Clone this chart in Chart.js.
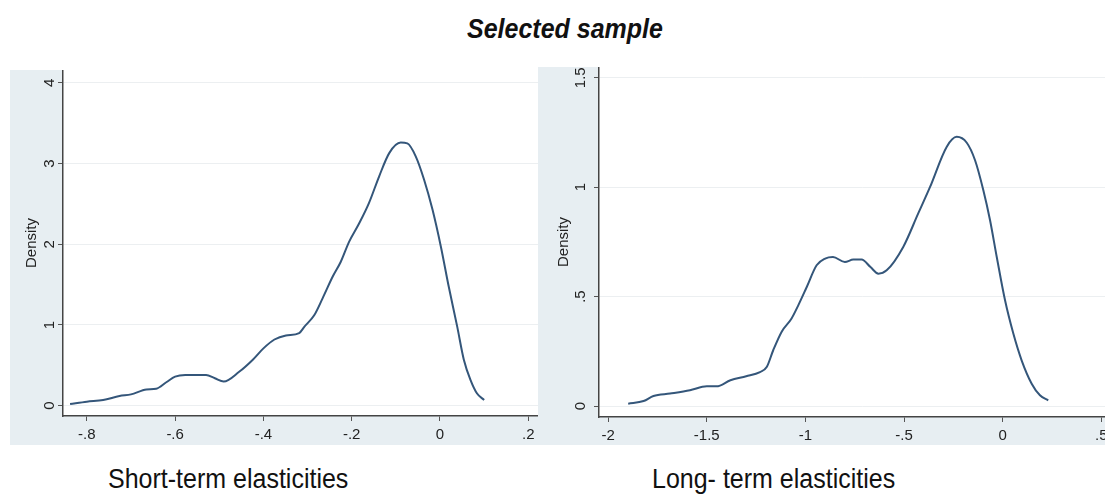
<!DOCTYPE html>
<html>
<head>
<meta charset="utf-8">
<script src="https://cdn.jsdelivr.net/npm/chart.js@4.4.0/dist/chart.umd.min.js"></script>
<style>
  body { margin: 0; width: 1105px; height: 496px; overflow: hidden; background: #fff; position: relative;
         font-family: "Liberation Sans", Arial, sans-serif; }
  .panel { position: absolute; background: #e7eef2; }
  .txt { position: absolute; white-space: nowrap; line-height: 1; color: #111; transform: scaleY(1.1); transform-origin: 0 0; }
</style>
</head>
<body>
<div class="txt" style="left:0; width:1130px; text-align:center; top:15px; font-size:25px; font-weight:bold; font-style:italic;">Selected sample</div>

<div class="panel" style="left:10px; top:70px; width:528px; height:375px;">
  <canvas id="cShort" width="528" height="375"></canvas>
</div>
<div class="panel" style="left:538px; top:67px; width:587px; height:378px;">
  <canvas id="cLong" width="587" height="378"></canvas>
</div>

<div class="txt" style="left:108px; top:465px; font-size:25px;">Short-term elasticities</div>
<div class="txt" style="left:652px; top:465px; font-size:25px;">Long- term elasticities</div>

<script>
// short-term elasticities, kernel density
const shortX = [-0.838, -0.80, -0.763, -0.726, -0.70, -0.665, -0.643, -0.62, -0.60, -0.577, -0.53, -0.51, -0.49,
  -0.455, -0.424, -0.40, -0.375, -0.349, -0.319, -0.307, -0.285, -0.266, -0.243, -0.225, -0.206, -0.183, -0.161,
  -0.138, -0.115, -0.089, -0.074, -0.055, -0.036, -0.017, 0.002, 0.02, 0.039, 0.054, 0.069, 0.084, 0.10];
const shortDensity = [0.02, 0.05, 0.07, 0.12, 0.14, 0.20, 0.21, 0.29, 0.36, 0.38, 0.38, 0.34, 0.30,
  0.42, 0.57, 0.71, 0.82, 0.87, 0.90, 0.98, 1.12, 1.33, 1.60, 1.78, 2.03, 2.26, 2.51,
  2.84, 3.13, 3.26, 3.25, 3.09, 2.80, 2.43, 1.97, 1.47, 0.98, 0.57, 0.32, 0.15, 0.07];

// long-term elasticities, kernel density
const longX = [-1.898, -1.82, -1.77, -1.686, -1.585, -1.50, -1.45, -1.38, -1.30, -1.23, -1.196, -1.163, -1.12,
  -1.07, -1.036, -0.993, -0.943, -0.90, -0.86, -0.80, -0.757, -0.715, -0.67, -0.63, -0.588, -0.504, -0.428,
  -0.368, -0.284, -0.233, -0.182, -0.14, -0.098, -0.064, -0.03, 0.012, 0.054, 0.096, 0.147, 0.189, 0.231];
const longDensity = [0.011, 0.023, 0.046, 0.057, 0.072, 0.09, 0.09, 0.118, 0.136, 0.155, 0.178, 0.255, 0.34,
  0.40, 0.46, 0.544, 0.643, 0.674, 0.681, 0.658, 0.669, 0.669, 0.635, 0.605, 0.62, 0.727, 0.88,
  1.001, 1.184, 1.23, 1.203, 1.123, 0.986, 0.849, 0.681, 0.483, 0.331, 0.209, 0.102, 0.049, 0.026];

const shortXTicks = [-0.8, -0.6, -0.4, -0.2, 0, 0.2];
const shortXLabels = ['-.8', '-.6', '-.4', '-.2', '0', '.2'];
const shortYTicks = [0, 1, 2, 3, 4];
const shortYLabels = ['0', '1', '2', '3', '4'];

const longXTicks = [-2, -1.5, -1, -0.5, 0, 0.5];
const longXLabels = ['-2', '-1.5', '-1', '-.5', '0', '.5'];
const longYTicks = [0, 0.5, 1, 1.5];
const longYLabels = ['0', '.5', '1', '1.5'];

const FONT = '"Liberation Sans", Arial, sans-serif';

const plotBg = {
  id: 'plotBg',
  beforeDraw(chart) {
    const { ctx, chartArea: a } = chart;
    ctx.save();
    ctx.fillStyle = '#ffffff';
    ctx.fillRect(a.left, a.top, a.right - a.left, a.bottom - a.top);
    ctx.restore();
  }
};

function densityChart(id, xs, ys, cfg) {
  return new Chart(document.getElementById(id), {
    type: 'line',
    data: {
      datasets: [{
        data: xs.map((x, i) => ({ x: x, y: ys[i] })),
        borderColor: '#34567a',
        borderWidth: 2,
        pointRadius: 0,
        fill: false,
        cubicInterpolationMode: 'monotone'
      }]
    },
    options: {
      responsive: false,
      animation: false,
      layout: { padding: 0, autoPadding: false },
      plugins: { legend: { display: false }, tooltip: { enabled: false } },
      scales: {
        x: {
          type: 'linear',
          position: 'bottom',
          min: cfg.xMin,
          max: cfg.xMax,
          afterBuildTicks: s => { s.ticks = cfg.xTicks.map(v => ({ value: v })); },
          ticks: {
            callback: (v, i) => cfg.xLabels[i],
            font: { family: FONT, size: 15 },
            color: '#222',
            padding: 5,
            maxRotation: 0,
            autoSkip: false
          },
          grid: { drawOnChartArea: false, drawTicks: true, tickLength: 5, tickColor: '#555', tickWidth: 1 },
          border: { display: true, color: '#444', width: 1.5 },
          afterFit: s => { s.height = cfg.xAxisHeight; s.paddingLeft = 0; s.paddingRight = 0; }
        },
        y: {
          type: 'linear',
          min: cfg.yMin,
          max: cfg.yMax,
          afterBuildTicks: s => { s.ticks = cfg.yTicks.map(v => ({ value: v })); },
          ticks: {
            callback: (v, i) => cfg.yLabels[i],
            font: { family: FONT, size: 15 },
            color: '#222',
            minRotation: 90,
            maxRotation: 90,
            crossAlign: 'center',
            padding: cfg.yTickPad
          },
          grid: { color: '#eceff1', lineWidth: 1, tickLength: 5, tickColor: '#555' },
          border: { display: true, color: '#444', width: 1.5 },
          title: {
            display: true,
            text: 'Density',
            font: { family: FONT, size: 15 },
            color: '#222',
            padding: { top: cfg.titlePad, bottom: 0 }
          },
          afterFit: s => { s.width = cfg.yAxisWidth; s.paddingTop = 0; s.paddingBottom = 0; }
        }
      }
    },
    plugins: [plotBg]
  });
}

densityChart('cShort', shortX, shortDensity, {
  xMin: -0.854, xMax: 0.222, yMin: -0.128, yMax: 4.16,
  xTicks: shortXTicks, xLabels: shortXLabels, yTicks: shortYTicks, yLabels: shortYLabels,
  yAxisWidth: 53, xAxisHeight: 29, yTickPad: 4, titlePad: 13
});

densityChart('cLong', longX, longDensity, {
  xMin: -2.046, xMax: 0.62, yMin: -0.05, yMax: 1.549,
  xTicks: longXTicks, xLabels: longXLabels, yTicks: longYTicks, yLabels: longYLabels,
  yAxisWidth: 61, xAxisHeight: 28, yTickPad: 3, titlePad: 17
});
</script>
</body>
</html>
